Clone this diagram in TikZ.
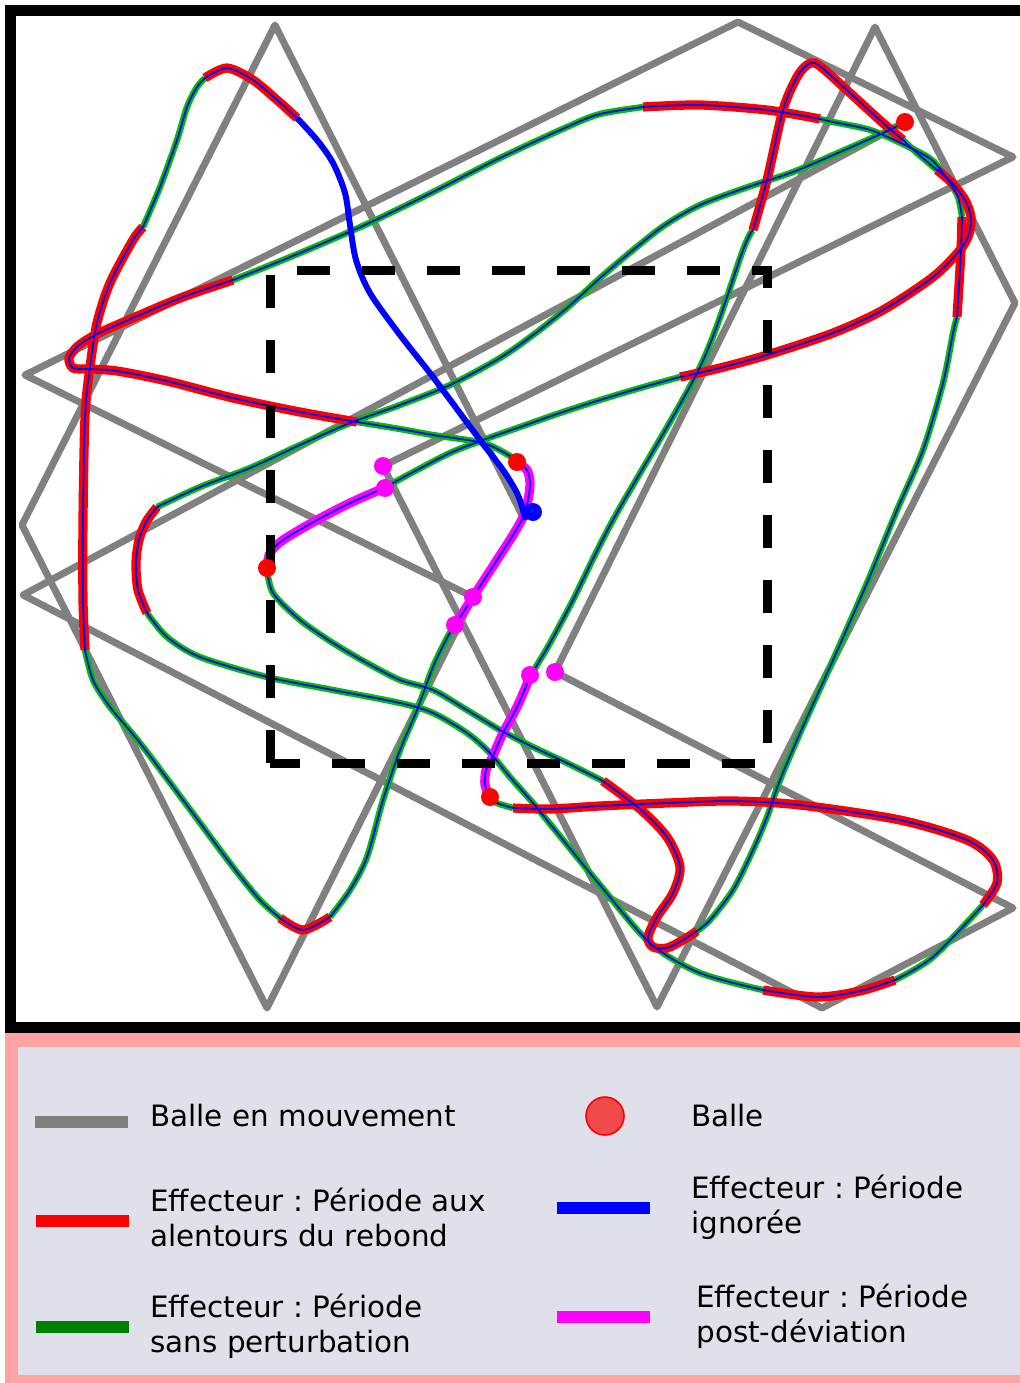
\documentclass[tikz,border=0pt]{standalone}
\usepackage{fontspec}
\setmainfont{DejaVu Sans}
\frenchspacing
\definecolor{ggray}{HTML}{808080}
\definecolor{pgreen}{HTML}{00BE00}
\definecolor{lgreen}{HTML}{008000}
\definecolor{mag}{RGB}{255,0,255}
\definecolor{pblue}{RGB}{0,0,255}
\definecolor{pred}{RGB}{255,0,0}
\definecolor{legpink}{HTML}{FFA3A3}
\definecolor{leglav}{HTML}{DFE0EA}
\definecolor{ballfill}{HTML}{F04A4A}
\newcommand\effplot[2]{\edef\effcmd{\noexpand\draw[#1] plot[smooth] coordinates {#2};}\effcmd}
\tikzset{
  grayline/.style={draw=ggray,line width=3.5pt,line join=round,line cap=round},
  grn/.style={draw=pgreen,line width=3.2pt,line cap=butt},
  redseg/.style={draw=pred,line width=4.6pt,line cap=butt},
  magseg/.style={draw=mag,line width=4.6pt,line cap=butt},
  bluethick/.style={draw=pblue,line width=3pt,line cap=butt},
  bluethin/.style={draw=pblue,line width=0.9pt},
  dot/.style={circle,inner sep=0pt,minimum size=9pt},
  legline/.style={line width=6pt},
  legtext/.style={anchor=base west,inner sep=0pt,font=\fontsize{14.7pt}{17.5pt}\selectfont,align=left}
}
% effector sections
\def\sA{(905,122) (883,133) (840,152) (793,172) (745,188) (700,205) (665,225) (633,250) (600,278) (567,308) (533,335) (500,358) (450,385) (400,405) (350,423) (300,445) (250,468) (200,487) (157,507)}
\def\sB{(157,507) (146,522) (139,540) (136,563) (138,590) (147,613)}
\def\sC{(147,613) (167,637) (200,657) (267,677) (333,690) (400,703) (433,713) (467,733) (490,753) (510,777) (533,803) (555,830) (600,885) (650,943) (700,973) (763,990)}
\def\sD{(763,990) (817,997) (860,991) (895,980)}
\def\sE{(895,980) (933,957) (983,905)}
\def\sF{(983,905) (997,883) (993,860) (967,840) (900,820) (800,805) (733,801) (667,803) (600,806) (550,809) (513,808)}
\def\sG{(513,808) (497,803) (490,797)}
\def\sH{(490,797) (485,785) (486,770) (492,758) (503,733) (517,707) (530,677)}
\def\sI{(530,677) (537,665) (550,643) (573,600) (613,520) (700,367) (743,250) (753,230)}
\def\sJ{(753,230) (767,180) (783,110) (797,77) (807,65) (815,63) (827,72) (850,93) (883,123) (903,140)}
\def\sK{(903,140) (917,153) (937,170)}
\def\sL{(937,170) (952,183) (965,200) (971,217) (969,234) (960,250) (933,277) (883,310) (833,333) (767,355) (720,368) (680,377)}
\def\sM{(680,377) (640,388) (600,400) (560,413) (520,427) (483,440) (450,453) (417,470) (393,483) (385,488)}
\def\sN{(385,488) (377,491) (350,503) (317,520) (283,540) (270,553) (267,568)}
\def\sO{(267,568) (273,593) (300,620) (333,643) (367,663) (400,680) (433,690) (467,710) (500,730) (533,747) (567,763) (603,781)}
\def\sP{(603,781) (640,809) (667,837) (680,867) (673,893) (657,917) (648,937) (653,947) (667,948) (683,940) (697,931)}
\def\sQ{(697,931) (710,920) (733,890) (753,850) (767,817) (780,780) (800,733) (833,660) (867,583) (897,510) (923,450) (943,383) (953,333) (957,317)}
\def\sR{(957,317) (959,285) (961,250) (962,217)}
\def\sS{(962,217) (958,197) (948,180) (933,161) (917,151) (890,138) (867,129) (833,122) (820,119)}
\def\sT{(820,119) (767,110) (700,105) (643,107)}
\def\sU{(643,107) (600,114) (567,127) (500,158) (433,192) (367,224) (300,253) (233,280)}
\def\sV{(233,280) (183,297) (133,318) (97,334) (78,346) (69,358) (73,368) (87,369) (117,371) (167,381) (233,398) (300,412) (357,422)}
\def\sW{(357,422) (400,429) (433,435) (483,443) (510,456) (517,462)}
\def\sX{(517,462) (527,470) (530,483) (528,500) (523,517) (513,535) (497,560) (473,597) (455,625)}
\def\sY{(455,625) (447,638) (433,667) (417,710) (400,750) (383,800) (367,857) (350,890) (330,917)}
\def\sZ{(330,917) (303,930) (280,918)}
\def\sAA{(280,918) (260,900) (233,867) (183,800) (140,743) (110,707) (93,680) (85,650)}
\def\sAB{(85,650) (83,600) (83,520) (85,417) (90,367) (97,323) (110,283) (133,240) (143,227)}
\def\sAC{(143,227) (160,187) (177,140) (187,107) (197,87) (205,78)}
\def\sAD{(205,78) (227,68) (253,80) (277,100) (297,118)}
\def\sAE{(297,118) (317,140) (333,163) (345,193) (350,225) (356,260) (370,293) (400,335) (433,377) (480,440) (503,470) (517,493) (523,510) (525,520)}
\begin{document}
\begin{tikzpicture}[x=0.5pt,y=-0.5pt]
\useasboundingbox (0,0) rectangle (1020,1383);
% legend panel
\fill[legpink] (5,1033) rectangle (1020,1383);
\fill[leglav] (18,1047) rectangle (1020,1375);
% ball trajectory
\draw[grayline] (905,122) -- (23,595) -- (822,1008) -- (1013,908) -- (555,672) -- (875,27) -- (1015,303) -- (657,1007) -- (383,466) -- (1013,157) -- (738,22) -- (25,375) -- (473,597) -- (267,1008) -- (22,525) -- (275,25) -- (522,515);
% effector: base colours
\foreach \s in {\sA,\sC,\sE,\sG,\sI,\sK,\sM,\sO,\sQ,\sS,\sU,\sW,\sY,\sAA,\sAC}{\effplot{grn}{\s}}
\foreach \s in {\sB,\sD,\sF,\sJ,\sL,\sP,\sR,\sT,\sV,\sZ,\sAB,\sAD}{\effplot{redseg}{\s}}
\foreach \s in {\sH,\sN,\sX}{\effplot{magseg}{\s}}
\effplot{bluethick}{\sAE}
% effector: thin centre line
\foreach \s in {\sA,\sB,\sC,\sD,\sE,\sF,\sG,\sH,\sI,\sJ,\sK,\sL,\sM,\sN,\sO,\sP,\sQ,\sR,\sS,\sT,\sU,\sV,\sW,\sX,\sY,\sZ,\sAA,\sAB,\sAC,\sAD}{\effplot{bluethin}{\s}}
% dashed zone
\draw[line width=4.5pt,dash pattern=on 16.5pt off 16pt] (270,763) -- (270,270) -- (767,270) -- (767,763) -- cycle;
% dots
\node[dot,fill=mag] (m1) at (383,466) {};
\node[dot,fill=mag] (m1e) at (385,488) {};
\node[dot,fill=mag] (m2) at (473,597) {};
\node[dot,fill=mag] (m2e) at (455,625) {};
\node[dot,fill=mag] (m3) at (555,672) {};
\node[dot,fill=mag] (m3e) at (530,675) {};
\node[dot,fill=pred] (r1) at (517,462) {};
\node[dot,fill=pred] (r2) at (267,568) {};
\node[dot,fill=pred] (r3) at (905,122) {};
\node[dot,fill=pred] (r4) at (490,797) {};
\node[dot,fill=pblue] (b1) at (533,512) {};
% frame
\draw[line width=5.5pt] (10.5,1027.5) -- (10.5,10.5) -- (1020,10.5);
\draw[line width=5.5pt] (5,1027.5) -- (1020,1027.5);
% legend
\draw[ggray,legline] (35,1122) -- (128,1122);
\node[legtext] (t1) at (150,1126) {Balle en mouvement};
\node[circle,inner sep=0pt,minimum size=19pt,fill=ballfill,draw=pred,line width=0.8pt] (lb) at (605,1116) {};
\node[legtext] (t2) at (691,1126) {Balle};
\draw[pred,legline] (36,1221) -- (129,1221);
\node[legtext] (t3) at (150,1246) {Effecteur : Période aux\\alentours du rebond};
\draw[pblue,legline] (557,1208) -- (650,1208);
\node[legtext] (t4) at (691,1233) {Effecteur : Période\\ignorée};
\draw[lgreen,legline] (36,1327) -- (129,1327);
\node[legtext] (t5) at (150,1352) {Effecteur : Période\\sans perturbation};
\draw[mag,legline] (557,1317) -- (650,1317);
\node[legtext] (t6) at (696,1342) {Effecteur : Période\\post-déviation};
\end{tikzpicture}
\end{document}
